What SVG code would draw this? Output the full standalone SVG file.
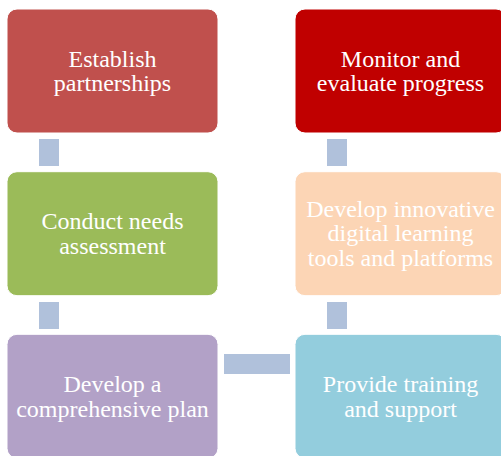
<svg xmlns="http://www.w3.org/2000/svg" width="501" height="456" viewBox="0 0 501 456">
<style>
.box{stroke:#ffffff;stroke-width:1}
.lbl{font-family:"Liberation Serif","Times New Roman",serif;font-size:24px;fill:#ffffff;text-anchor:middle}
.con{fill:#B0C1DB}
</style>
<rect width="501" height="456" fill="#ffffff"/>
<g id="connectors">
<rect class="con" x="39" y="139" width="20" height="27"/>
<rect class="con" x="39" y="302" width="20" height="27"/>
<rect class="con" x="224" y="354" width="66" height="20"/>
<rect class="con" x="327" y="302" width="20" height="27"/>
<rect class="con" x="327" y="139" width="20" height="27"/>
</g>
<g id="n1">
<rect class="box" x="7" y="9" width="211" height="124" rx="10" fill="#C0504D"/>
<text class="lbl" x="112.5" y="66.5">Establish</text>
<text class="lbl" x="112.5" y="91">partnerships</text>
</g>
<g id="n2">
<rect class="box" x="7" y="171.7" width="211" height="124" rx="10" fill="#9BBB59"/>
<text class="lbl" x="112.5" y="229">Conduct needs</text>
<text class="lbl" x="112.5" y="253.5">assessment</text>
</g>
<g id="n3">
<rect class="box" x="7" y="334.3" width="211" height="124" rx="10" fill="#B2A1C7"/>
<text class="lbl" x="112.5" y="391.8">Develop a</text>
<text class="lbl" x="112.5" y="416.5">comprehensive plan</text>
</g>
<g id="n4">
<rect class="box" x="295" y="334.3" width="211" height="124" rx="10" fill="#93CDDD"/>
<text class="lbl" x="400.5" y="391.8">Provide training</text>
<text class="lbl" x="400.5" y="416.5">and support</text>
</g>
<g id="n5">
<rect class="box" x="295" y="171.7" width="211" height="124" rx="10" fill="#FCD5B5"/>
<text class="lbl" x="400.5" y="216.7">Develop innovative</text>
<text class="lbl" x="400.5" y="241.2">digital learning</text>
<text class="lbl" x="400.5" y="265.7">tools and platforms</text>
</g>
<g id="n6">
<rect class="box" x="295" y="9" width="211" height="124" rx="10" fill="#C00000"/>
<text class="lbl" x="400.5" y="66.5">Monitor and</text>
<text class="lbl" x="400.5" y="91">evaluate progress</text>
</g>
</svg>
